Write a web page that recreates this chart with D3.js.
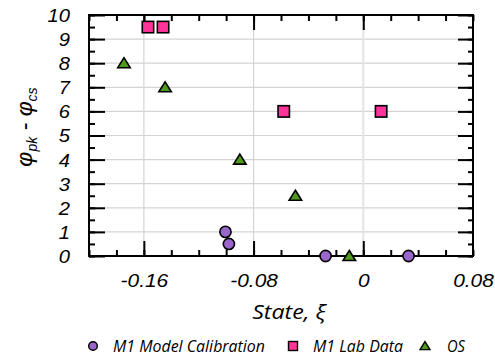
<!DOCTYPE html>
<html>
<head>
<meta charset="utf-8">
<script src="https://cdn.jsdelivr.net/npm/d3@7"></script>
<style>
  html, body { margin: 0; padding: 0; background: #fff; }
  svg { display: block; }
</style>
</head>
<body>
<svg id="chart" width="495" height="358"></svg>
<script>
// State parameter vs. peak minus critical-state friction angle
const calibX = [-0.1005, -0.098, -0.0275, 0.033];
const calibY = [1.0, 0.5, 0, 0];
const labX = [-0.157, -0.146, -0.058, 0.013];
const labY = [9.5, 9.5, 6, 6];
const osX = [-0.1745, -0.1445, -0.09, -0.0495, -0.0102];
const osY = [8, 7, 4, 2.5, 0];
const xTickValues = [-0.16, -0.08, 0, 0.08];
const xTickLabels = ["-0.16", "-0.08", "0", "0.08"];
const yTickValues = [0, 1, 2, 3, 4, 5, 6, 7, 8, 9, 10];
const seriesNames = ["M1 Model Calibration", "M1 Lab Data", "OS"];
const seriesColors = ["#9966cc", "#ff3399", "#4f9a1c"];

const svg = d3.select("#chart");
const pL = 89, pR = 473, pT = 15, pB = 256;

const x = d3.scaleLinear().domain([-0.2, 0.08]).range([pL, pR]);
const y = d3.scaleLinear().domain([0, 10]).range([pB, pT]);

const minorX = d3.range(-0.2, 0.0801, 0.02).map(v => +v.toFixed(2));
const minorY = d3.range(0, 10.01, 0.5);

// stretch text horizontally a little
function widen(sel, k) {
  sel.each(function () {
    const w = this.getComputedTextLength();
    d3.select(this).attr("textLength", w * k).attr("lengthAdjust", "spacingAndGlyphs");
  });
}

// gridlines
const grid = svg.append("g");
grid.selectAll(".hg").data(d3.range(1, 10)).join("line")
  .attr("x1", pL).attr("x2", pR)
  .attr("y1", d => y(d)).attr("y2", d => y(d))
  .attr("stroke", "#d4d4d4").attr("stroke-width", 1.2);
grid.selectAll(".vg").data([-0.16, -0.08, 0]).join("line")
  .attr("x1", d => x(d)).attr("x2", d => x(d))
  .attr("y1", pT).attr("y2", pB)
  .attr("stroke", d => d === 0 ? "#e4e4e4" : "#d4d4d4")
  .attr("stroke-width", d => d === 0 ? 2 : 1.2);

// axes with inward ticks
function styleAxis(g) {
  g.select(".domain").remove();
  g.selectAll(".tick line").attr("stroke", "#000").attr("stroke-width", 2);
}
const majorXTicks = [-0.16, -0.08, 0];

svg.append("g").attr("transform", `translate(0,${pB})`)
  .call(d3.axisBottom(x).tickValues(minorX).tickSize(-6).tickFormat(""))
  .call(styleAxis);
svg.append("g").attr("transform", `translate(0,${pB})`)
  .call(d3.axisBottom(x).tickValues(majorXTicks).tickSize(-15).tickFormat(""))
  .call(styleAxis);
svg.append("g").attr("transform", `translate(0,${pT})`)
  .call(d3.axisTop(x).tickValues(minorX).tickSize(-6).tickFormat(""))
  .call(styleAxis);
svg.append("g").attr("transform", `translate(0,${pT})`)
  .call(d3.axisTop(x).tickValues(majorXTicks).tickSize(-15).tickFormat(""))
  .call(styleAxis);
svg.append("g").attr("transform", `translate(${pL},0)`)
  .call(d3.axisLeft(y).tickValues(minorY).tickSize(-6).tickFormat(""))
  .call(styleAxis);
svg.append("g").attr("transform", `translate(${pL},0)`)
  .call(d3.axisLeft(y).tickValues(yTickValues).tickSize(-16).tickFormat(""))
  .call(styleAxis);
svg.append("g").attr("transform", `translate(${pR},0)`)
  .call(d3.axisRight(y).tickValues(minorY).tickSize(-5).tickFormat(""))
  .call(styleAxis);
svg.append("g").attr("transform", `translate(${pR},0)`)
  .call(d3.axisRight(y).tickValues(yTickValues).tickSize(-15).tickFormat(""))
  .call(styleAxis);

// tick labels
const xLab = svg.append("g").attr("transform", `translate(0,${pB})`)
  .call(d3.axisBottom(x).tickValues(xTickValues).tickSize(0).tickPadding(31)
    .tickFormat((d, i) => xTickLabels[i]));
xLab.select(".domain").remove();
xLab.selectAll("text")
  .attr("font-family", "'Liberation Sans', Arial, sans-serif")
  .attr("font-style", "italic").attr("font-size", 19).attr("fill", "#000")
  .attr("dy", 0);
widen(xLab.selectAll("text"), 1.1);

const yLab = svg.append("g").attr("transform", `translate(${pL},0)`)
  .call(d3.axisLeft(y).tickValues(yTickValues).tickSize(0).tickPadding(19));
yLab.select(".domain").remove();
yLab.selectAll("text")
  .attr("font-family", "'Liberation Sans', Arial, sans-serif")
  .attr("font-style", "italic").attr("font-size", 18).attr("fill", "#000")
  .attr("dy", "0.36em");
widen(yLab.selectAll("text"), 1.12);

// frame
svg.append("rect").attr("x", pL).attr("y", pT)
  .attr("width", pR - pL).attr("height", pB - pT)
  .attr("fill", "none").attr("stroke", "#000").attr("stroke-width", 2);

// markers
function triPath(cx, cy, w, h) {
  return `M${cx},${cy - h * 0.55}L${cx + w / 2},${cy + h * 0.45}L${cx - w / 2},${cy + h * 0.45}Z`;
}
const marks = svg.append("g").attr("stroke", "#000").attr("stroke-width", 1.6);
marks.selectAll(".sq").data(labX.map((v, i) => [v, labY[i]])).join("rect")
  .attr("x", d => x(d[0]) - 5.7).attr("y", d => y(d[1]) - 5.7)
  .attr("width", 11.4).attr("height", 11.4)
  .attr("fill", seriesColors[1]);
marks.selectAll(".tr").data(osX.map((v, i) => [v, osY[i]])).join("path")
  .attr("d", d => triPath(x(d[0]), y(d[1]), 12.5, 10))
  .attr("fill", seriesColors[2]);
marks.selectAll(".ci").data(calibX.map((v, i) => [v, calibY[i]])).join("circle")
  .attr("cx", d => x(d[0])).attr("cy", d => y(d[1])).attr("r", 5.6)
  .attr("fill", seriesColors[0]);

// axis titles
const xt = svg.append("text").attr("x", 289).attr("y", 319)
  .attr("text-anchor", "middle")
  .attr("font-family", "'Open Sans', sans-serif").attr("font-style", "italic")
  .attr("font-size", 20.5).text("State, ξ");
widen(xt, 1.13);

const yt = svg.append("text")
  .attr("transform", "translate(32,127) rotate(-90)")
  .attr("text-anchor", "middle")
  .attr("font-family", "'Liberation Sans', Arial, sans-serif").attr("font-style", "italic")
  .attr("font-size", 23);
yt.append("tspan").text("φ");
yt.append("tspan").attr("font-size", 14).attr("dy", 5).text("pk");
yt.append("tspan").attr("dy", -5).text(" - φ");
yt.append("tspan").attr("font-size", 14).attr("dy", 5).text("cs");

// legend
const leg = svg.append("g").attr("font-family", "'Open Sans', sans-serif")
  .attr("font-style", "italic").attr("font-size", 15.5);
const legItems = [
  { sym: "circle", x: 93, tx: 113, w: 152 },
  { sym: "square", x: 293, tx: 313, w: 90 },
  { sym: "tri", x: 425, tx: 447, w: 18 }
];
legItems.forEach((it, i) => {
  const cy = 346;
  if (it.sym === "circle") {
    leg.append("circle").attr("cx", it.x).attr("cy", cy).attr("r", 4.3)
      .attr("fill", seriesColors[0]).attr("stroke", "#000").attr("stroke-width", 1.4);
  } else if (it.sym === "square") {
    leg.append("rect").attr("x", it.x - 4.5).attr("y", cy - 4.5).attr("width", 9).attr("height", 9)
      .attr("fill", seriesColors[1]).attr("stroke", "#000").attr("stroke-width", 1.4);
  } else {
    leg.append("path").attr("d", triPath(it.x, cy, 10, 8))
      .attr("fill", seriesColors[2]).attr("stroke", "#000").attr("stroke-width", 1.4);
  }
  leg.append("text").attr("x", it.tx).attr("y", cy + 5.5)
    .attr("textLength", it.w).attr("lengthAdjust", "spacingAndGlyphs")
    .text(seriesNames[i]);
});
</script>
</body>
</html>
